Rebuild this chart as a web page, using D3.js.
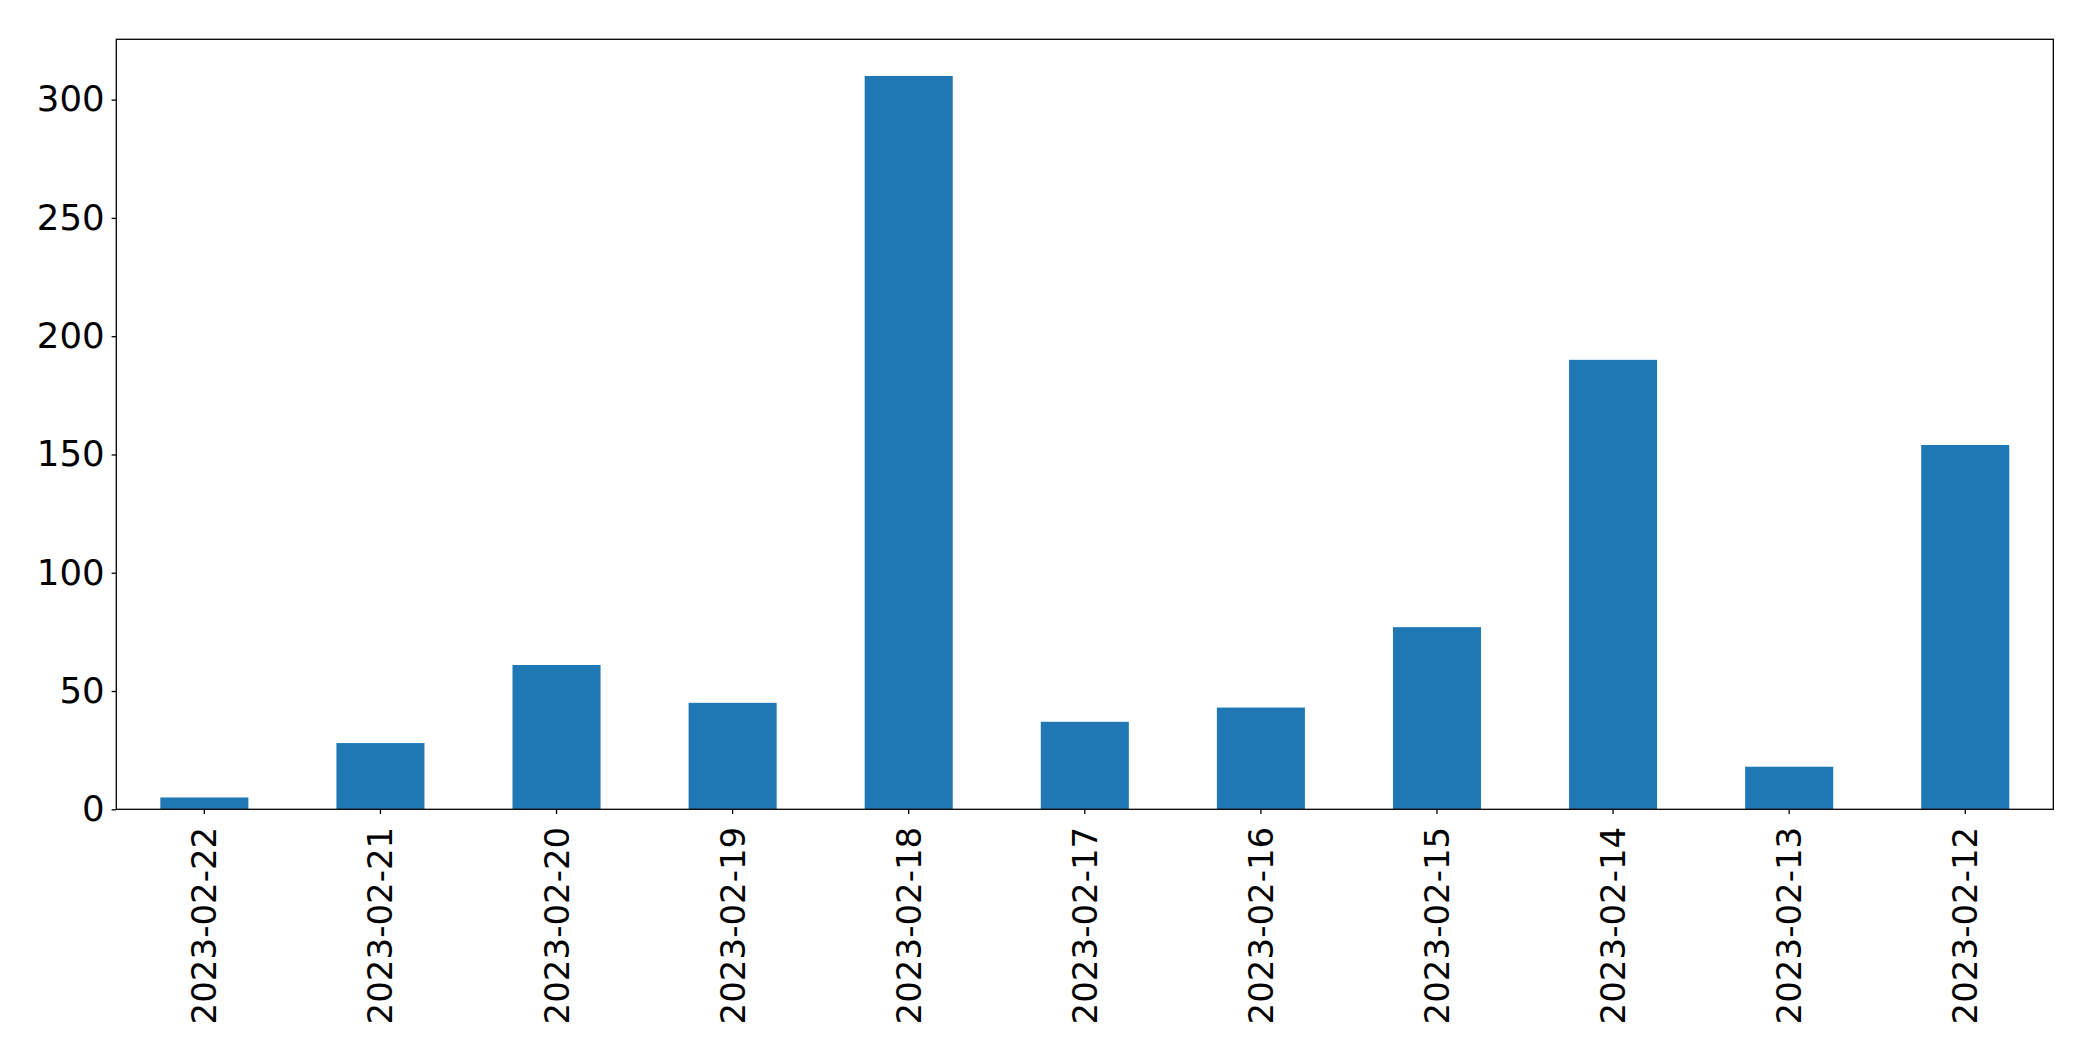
<!DOCTYPE html>
<html>
<head>
<meta charset="utf-8">
<script src="https://cdn.jsdelivr.net/npm/d3@7"></script>
<style>
  html, body { margin: 0; padding: 0; background: #fff; }
  svg { display: block; }
  text { font-family: "DejaVu Sans", sans-serif; fill: #000; }
</style>
</head>
<body>
<script>
const categories = ["2023-02-22","2023-02-21","2023-02-20","2023-02-19","2023-02-18","2023-02-17","2023-02-16","2023-02-15","2023-02-14","2023-02-13","2023-02-12"];
const values = [5, 28, 61, 45, 310, 37, 43, 77, 190, 18, 154];
const yTicks = [0, 50, 100, 150, 200, 250, 300];

const W = 2093, H = 1061;
const m = { left: 116.3, right: 2053.3, top: 39.3, bottom: 809.3 };
const fontSize = 34;
const yFontSize = 35.5;

const svg = d3.select("body").append("svg").attr("width", W).attr("height", H);

const x = d3.scaleBand().domain(categories).range([m.left, m.right]).paddingInner(0.5).paddingOuter(0.25);
const y = d3.scaleLinear().domain([0, d3.max(values) * 1.05]).range([m.bottom, m.top]);

svg.append("g").selectAll("rect").data(values).join("rect")
  .attr("x", (d, i) => x(categories[i]))
  .attr("y", d => y(d))
  .attr("width", x.bandwidth())
  .attr("height", d => y(0) - y(d))
  .attr("fill", "#1f77b4");

// frame
svg.append("rect")
  .attr("x", m.left).attr("y", m.top)
  .attr("width", m.right - m.left).attr("height", m.bottom - m.top)
  .attr("fill", "none").attr("stroke", "#000").attr("stroke-width", 1.3);

// y axis
const yAxis = d3.axisLeft(y).tickValues(yTicks).tickSize(4.7).tickPadding(7).tickFormat(d3.format("d"));
const gy = svg.append("g").attr("transform", `translate(${m.left},0)`).call(yAxis);
gy.select(".domain").remove();
gy.selectAll(".tick line").attr("stroke", "#000").attr("stroke-width", 1.3);
gy.selectAll(".tick text").attr("font-size", yFontSize).attr("font-family", "DejaVu Sans").attr("fill", "#000");

// x axis
const xAxis = d3.axisBottom(x).tickSize(4.7).tickPadding(0);
const gx = svg.append("g").attr("transform", `translate(0,${m.bottom})`).call(xAxis);
gx.select(".domain").remove();
gx.selectAll(".tick line").attr("stroke", "#000").attr("stroke-width", 1.3);
gx.selectAll(".tick text")
  .attr("font-size", fontSize).attr("font-family", "DejaVu Sans").attr("fill", "#000")
  .attr("text-anchor", "end")
  .attr("dy", null)
  .attr("y", 0)
  .attr("dominant-baseline", "central")
  .attr("transform", "translate(0,17.5) rotate(-90)");
</script>
</body>
</html>
